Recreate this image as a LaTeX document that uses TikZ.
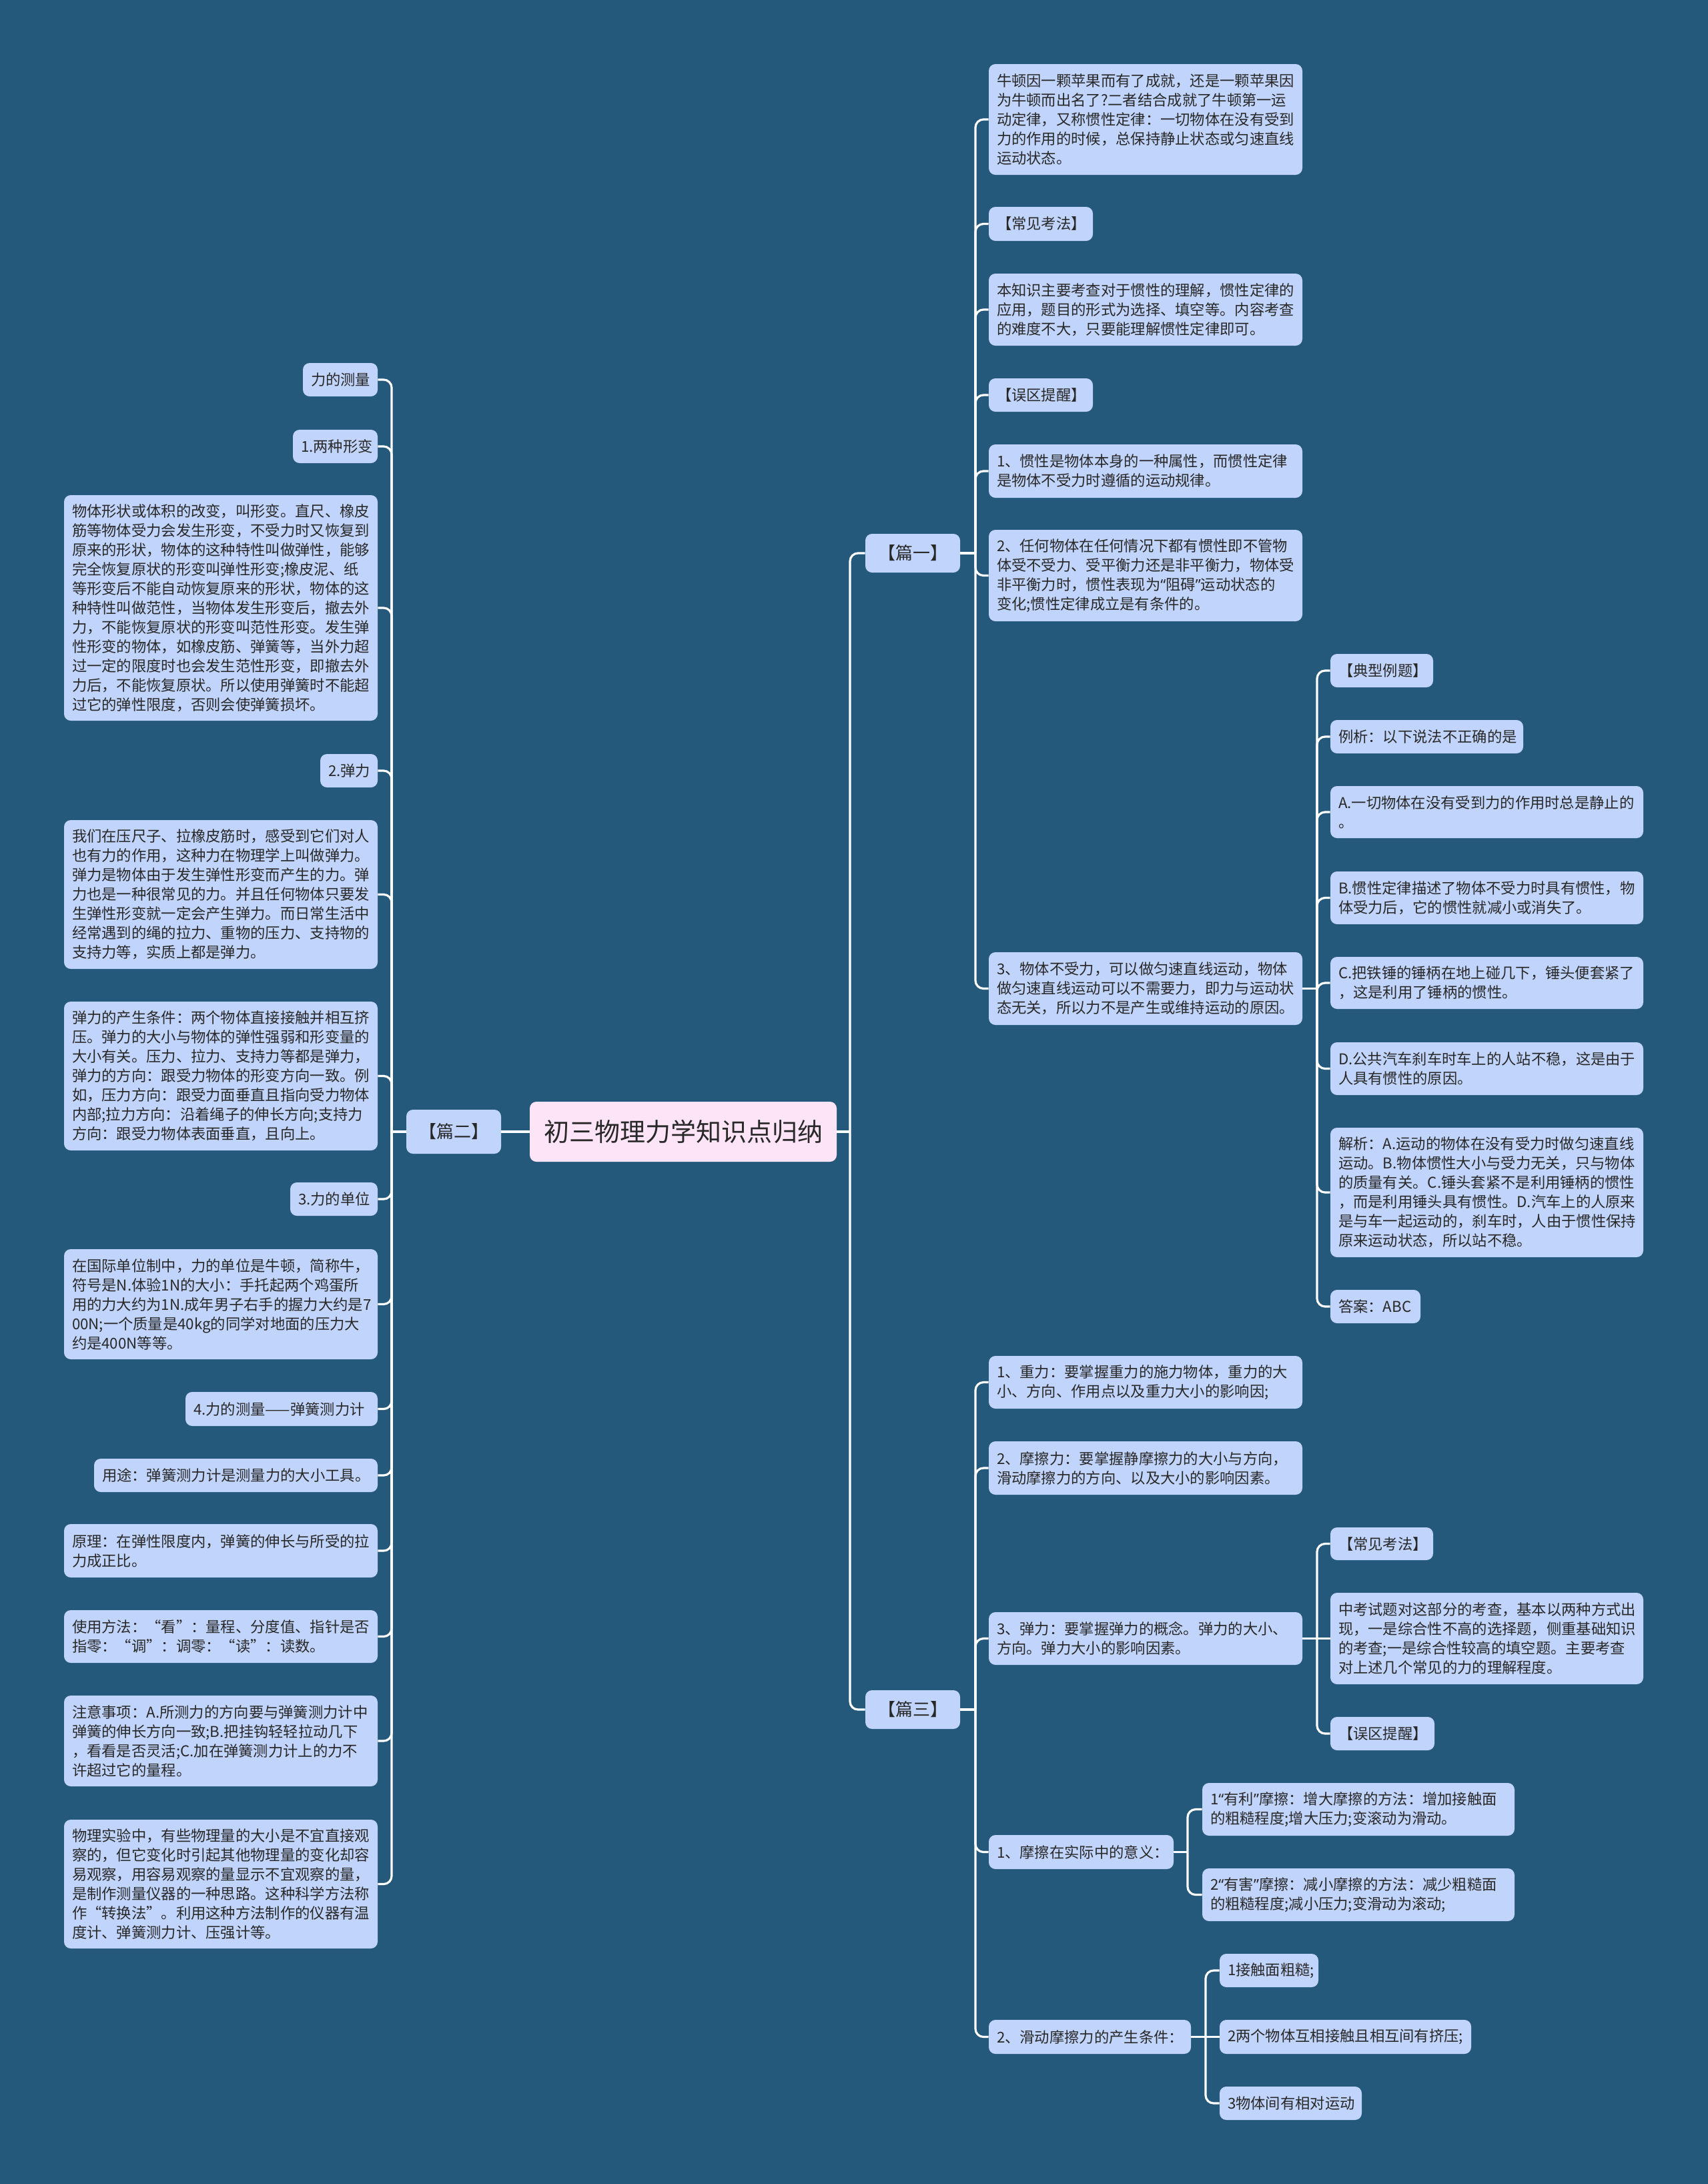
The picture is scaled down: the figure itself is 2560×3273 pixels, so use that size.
\documentclass[tikz,border=0pt]{standalone}
\usepackage{fontspec}
\setmainfont{Noto Sans CJK SC}
\newfontfamily\latq{Noto Sans}
\usetikzlibrary{fit}
\definecolor{bgc}{RGB}{36,89,124}
\definecolor{boxc}{RGB}{193,212,251}
\definecolor{rootc}{RGB}{253,228,247}
\definecolor{txtc}{RGB}{40,40,40}
\tikzset{
 box/.style={fill=boxc, rounded corners=5pt, inner sep=0pt, draw=none},
 txt/.style={align=left, inner sep=0pt, text=txtc, font=\fontsize{11.15pt}{14.5pt}\selectfont},
 conn/.style={draw=white, line width=1.6pt, rounded corners=6pt},
}
\newcommand\bx[6]{\node[box, fit={(#2,#3) (#4,#5)}] (#1) {};
 \node[txt, anchor=west] (#1t) at ([xshift=6pt]#1.west) {#6};}
\newcommand\myLq{{\latq “}}
\newcommand\myRq{{\latq ”}}
\begin{document}
\begin{tikzpicture}[x=0.5pt,y=-0.5pt]
\fill[bgc] (0,0) rectangle (2560,3273);
\useasboundingbox (0,0) rectangle (2560,3273);
% root and main branches
\node[box, fill=rootc, fit={(794,1651) (1254,1741)}] (root) {};
\node[text=txtc, font=\fontsize{19pt}{22pt}\selectfont] (roott) at (root) {初三物理力学知识点归纳};
\node[box, fit={(1297,800) (1439,858)}] (p1) {};
\node[text=txtc, font=\fontsize{13pt}{15pt}\selectfont] (p1t) at (p1) {【篇一】};
\node[box, fit={(609,1663) (751,1729)}] (p2) {};
\node[text=txtc, font=\fontsize{13pt}{15pt}\selectfont] (p2t) at (p2) {【篇二】};
\node[box, fit={(1297,2533) (1439,2591)}] (p3) {};
\node[text=txtc, font=\fontsize{13pt}{15pt}\selectfont] (p3t) at (p3) {【篇三】};
% left branch
\bx{L1}{454}{544}{566}{594}{力的测量}
\bx{L2}{439}{644}{566}{694}{1.两种形变}
\bx{L3}{96}{742}{566}{1080}{物体形状或体积的改变，叫形变。直尺、橡皮\\筋等物体受力会发生形变，不受力时又恢复到\\原来的形状，物体的这种特性叫做弹性，能够\\完全恢复原状的形变叫弹性形变;橡皮泥、纸\\等形变后不能自动恢复原来的形状，物体的这\\种特性叫做范性，当物体发生形变后，撤去外\\力，不能恢复原状的形变叫范性形变。发生弹\\性形变的物体，如橡皮筋、弹簧等，当外力超\\过一定的限度时也会发生范性形变，即撤去外\\力后，不能恢复原状。所以使用弹簧时不能超\\过它的弹性限度，否则会使弹簧损坏。}
\bx{L4}{480}{1130}{566}{1180}{2.弹力}
\bx{L5}{96}{1229}{566}{1452}{我们在压尺子、拉橡皮筋时，感受到它们对人\\也有力的作用，这种力在物理学上叫做弹力。\\弹力是物体由于发生弹性形变而产生的力。弹\\力也是一种很常见的力。并且任何物体只要发\\生弹性形变就一定会产生弹力。而日常生活中\\经常遇到的绳的拉力、重物的压力、支持物的\\支持力等，实质上都是弹力。}
\bx{L6}{96}{1501}{566}{1724}{弹力的产生条件：两个物体直接接触并相互挤\\压。弹力的大小与物体的弹性强弱和形变量的\\大小有关。压力、拉力、支持力等都是弹力，\\弹力的方向：跟受力物体的形变方向一致。例\\如，压力方向：跟受力面垂直且指向受力物体\\内部;拉力方向：沿着绳子的伸长方向;支持力\\方向：跟受力物体表面垂直，且向上。}
\bx{L7}{435}{1772}{566}{1822}{3.力的单位}
\bx{L8}{96}{1872}{566}{2037}{在国际单位制中，力的单位是牛顿，简称牛，\\符号是N.体验1N的大小：手托起两个鸡蛋所\\用的力大约为1N.成年男子右手的握力大约是7\\00N;一个质量是40kg的同学对地面的压力大\\约是400N等等。}
\bx{L9}{278}{2086}{566}{2137}{4.力的测量——弹簧测力计}
\bx{L10}{141}{2186}{566}{2236}{用途：弹簧测力计是测量力的大小工具。}
\bx{L11}{96}{2284}{566}{2364}{原理：在弹性限度内，弹簧的伸长与所受的拉\\力成正比。}
\bx{L12}{96}{2413}{566}{2492}{使用方法：“看”：量程、分度值、指针是否\\指零：“调”：调零：“读”：读数。}
\bx{L13}{96}{2541}{566}{2677}{注意事项：A.所测力的方向要与弹簧测力计中\\弹簧的伸长方向一致;B.把挂钩轻轻拉动几下\\，看看是否灵活;C.加在弹簧测力计上的力不\\许超过它的量程。}
\bx{L14}{96}{2727}{566}{2920}{物理实验中，有些物理量的大小是不宜直接观\\察的，但它变化时引起其他物理量的变化却容\\易观察，用容易观察的量显示不宜观察的量，\\是制作测量仪器的一种思路。这种科学方法称\\作“转换法”。利用这种方法制作的仪器有温\\度计、弹簧测力计、压强计等。}
% branch 1
\bx{A1}{1482}{96}{1952}{262}{牛顿因一颗苹果而有了成就，还是一颗苹果因\\为牛顿而出名了?二者结合成就了牛顿第一运\\动定律，又称惯性定律：一切物体在没有受到\\力的作用的时候，总保持静止状态或匀速直线\\运动状态。}
\bx{A2}{1482}{310}{1638}{361}{【常见考法】}
\bx{A3}{1482}{410}{1952}{518}{本知识主要考查对于惯性的理解，惯性定律的\\应用，题目的形式为选择、填空等。内容考查\\的难度不大，只要能理解惯性定律即可。}
\bx{A4}{1482}{567}{1638}{617}{【误区提醒】}
\bx{A5}{1482}{666}{1952}{746}{1、惯性是物体本身的一种属性，而惯性定律\\是物体不受力时遵循的运动规律。}
\bx{A6}{1482}{794}{1952}{931}{2、任何物体在任何情况下都有惯性即不管物\\体受不受力、受平衡力还是非平衡力，物体受\\非平衡力时，惯性表现为\myLq 阻碍\myRq 运动状态的\\变化;惯性定律成立是有条件的。}
\bx{A7}{1482}{1427}{1952}{1536}{3、物体不受力，可以做匀速直线运动，物体\\做匀速直线运动可以不需要力，即力与运动状\\态无关，所以力不是产生或维持运动的原因。}
\bx{C1}{1994}{980}{2148}{1030}{【典型例题】}
\bx{C2}{1994}{1079}{2283}{1129}{例析：以下说法不正确的是}
\bx{C3}{1994}{1178}{2463}{1256}{A.一切物体在没有受到力的作用时总是静止的\\。}
\bx{C4}{1994}{1306}{2463}{1385}{B.惯性定律描述了物体不受力时具有惯性，物\\体受力后，它的惯性就减小或消失了。}
\bx{C5}{1994}{1434}{2463}{1512}{C.把铁锤的锤柄在地上碰几下，锤头便套紧了\\，这是利用了锤柄的惯性。}
\bx{C6}{1994}{1562}{2463}{1641}{D.公共汽车刹车时车上的人站不稳，这是由于\\人具有惯性的原因。}
\bx{C7}{1994}{1690}{2463}{1884}{解析：A.运动的物体在没有受力时做匀速直线\\运动。B.物体惯性大小与受力无关，只与物体\\的质量有关。C.锤头套紧不是利用锤柄的惯性\\，而是利用锤头具有惯性。D.汽车上的人原来\\是与车一起运动的，刹车时，人由于惯性保持\\原来运动状态，所以站不稳。}
\bx{C8}{1994}{1933}{2129}{1983}{答案：ABC}
% branch 3
\bx{B1}{1482}{2032}{1952}{2111}{1、重力：要掌握重力的施力物体，重力的大\\小、方向、作用点以及重力大小的影响因;}
\bx{B2}{1482}{2160}{1952}{2240}{2、摩擦力：要掌握静摩擦力的大小与方向，\\滑动摩擦力的方向、以及大小的影响因素。}
\bx{B3}{1482}{2416}{1952}{2495}{3、弹力：要掌握弹力的概念。弹力的大小、\\方向。弹力大小的影响因素。}
\bx{D1}{1994}{2289}{2148}{2338}{【常见考法】}
\bx{D2}{1994}{2387}{2463}{2524}{中考试题对这部分的考查，基本以两种方式出\\现，一是综合性不高的选择题，侧重基础知识\\的考查;一是综合性较高的填空题。主要考查\\对上述几个常见的力的理解程度。}
\bx{D3}{1994}{2573}{2150}{2623}{【误区提醒】}
\bx{B4}{1482}{2750}{1759}{2801}{1、摩擦在实际中的意义：}
\bx{E1}{1802}{2672}{2270}{2751}{1\myLq 有利\myRq 摩擦：增大摩擦的方法：增加接触面\\的粗糙程度;增大压力;变滚动为滑动。}
\bx{E2}{1802}{2800}{2270}{2879}{2\myLq 有害\myRq 摩擦：减小摩擦的方法：减少粗糙面\\的粗糙程度;减小压力;变滑动为滚动;}
\bx{B5}{1482}{3027}{1785}{3078}{2、滑动摩擦力的产生条件：}
\bx{F1}{1828}{2928}{1976}{2978}{1接触面粗糙;}
\bx{F2}{1828}{3027}{2205}{3078}{2两个物体互相接触且相互间有挤压;}
\bx{F3}{1828}{3127}{2041}{3177}{3物体间有相对运动}
% spine x positions
\coordinate (xR) at (1274,0);
\coordinate (xA) at (1462,0);
\coordinate (xC) at (1974,0);
\coordinate (xE) at (1780,0);
\coordinate (xF) at (1807,0);
\coordinate (xL) at (587,0);
% connectors
\draw[conn] (root.west) -- (p2.east);
\draw[conn] (root.east) -- (root.east -| xR);
\draw[conn] (root.east -| xR) |- (p1.west);
\draw[conn] (root.east -| xR) |- (p3.west);
\draw[conn] (p2.west) -- (p2.west -| xL);
\foreach \c in {L1,L2,L3,L4,L5,L6,L7,L8,L9,L10,L11,L12,L13,L14}
  \draw[conn] (p2.west -| xL) |- (\c.east);
\draw[conn] (p1.east) -- (p1.east -| xA);
\foreach \c in {A1,A2,A3,A4,A5,A6,A7}
  \draw[conn] (p1.east -| xA) |- (\c.west);
\draw[conn] (A7.east) -- (A7.east -| xC);
\foreach \c in {C1,C2,C3,C4,C5,C6,C7,C8}
  \draw[conn] (A7.east -| xC) |- (\c.west);
\draw[conn] (p3.east) -- (p3.east -| xA);
\foreach \c in {B1,B2,B3,B4,B5}
  \draw[conn] (p3.east -| xA) |- (\c.west);
\draw[conn] (B3.east) -- (D2.west);
\foreach \c in {D1,D3}
  \draw[conn] (B3.east -| xC) |- (\c.west);
\draw[conn] (B4.east) -- (B4.east -| xE);
\foreach \c in {E1,E2}
  \draw[conn] (B4.east -| xE) |- (\c.west);
\draw[conn] (B5.east) -- (F2.west);
\foreach \c in {F1,F3}
  \draw[conn] (B5.east -| xF) |- (\c.west);
\end{tikzpicture}
\end{document}
